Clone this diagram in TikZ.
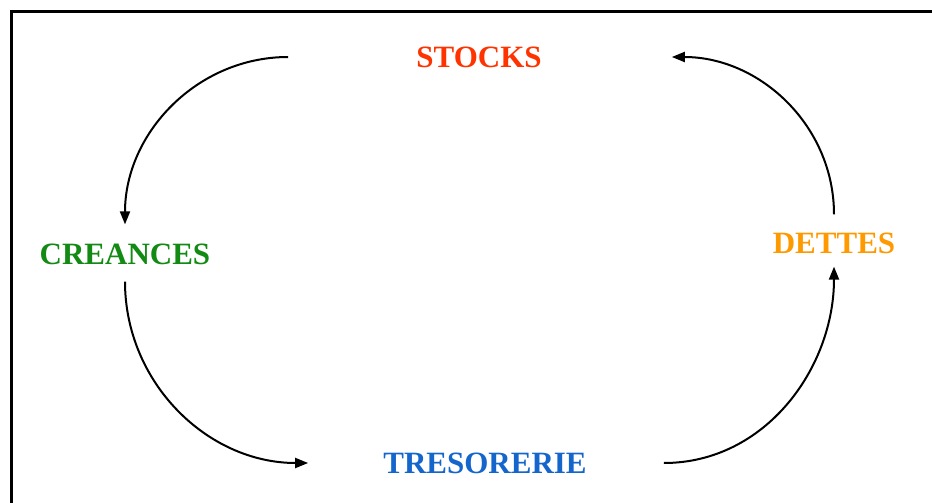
\documentclass[tikz,border=0pt]{standalone}
\usepackage{fontspec}
\setmainfont{Liberation Serif}
\usepackage{xcolor}
\usetikzlibrary{arrows.meta,calc}
\tikzset{
  lbl/.style={inner sep=0pt, font=\fontsize{31}{36}\selectfont\bfseries, text=#1},
  lbl/.default=black,
  arr/.style={-{Triangle[length=13pt, width=10pt]}, line width=2pt},
}
\definecolor{stk}{HTML}{FF3300}
\definecolor{cre}{HTML}{138A13}
\definecolor{det}{HTML}{FF9900}
\definecolor{tre}{HTML}{1466CC}

\begin{document}
\begin{tikzpicture}[x=1pt, y=-1pt]
  \useasboundingbox (0,0) rectangle (932,503);
  \clip (0,0) rectangle (932,503);
  \draw[line width=3pt] (11,12) rectangle (980,540);

  \node[lbl=stk] (stocks) at (479,57) {STOCKS};
  \node[lbl=cre] (creances) at (125,254) {CREANCES};
  \node[lbl=det] (dettes) at (834,243) {DETTES};
  \node[lbl=tre] (tresorerie) at (485,463) {TRESORERIE};

  \draw[arr] ([xshift=-128pt]stocks.west) to[out=180, in=90] ([yshift=19pt]creances.north);
  \draw[arr] ([yshift=-17pt]creances.south) to[out=-90, in=180] ([xshift=-75pt]tresorerie.west);
  \draw[arr] ([xshift=77pt]tresorerie.east) to[out=0, in=-90] ([yshift=-13pt]dettes.south);
  \draw[arr] ([yshift=18pt]dettes.north) to[out=90, in=0] ([xshift=130pt]stocks.east);
\end{tikzpicture}
\end{document}
